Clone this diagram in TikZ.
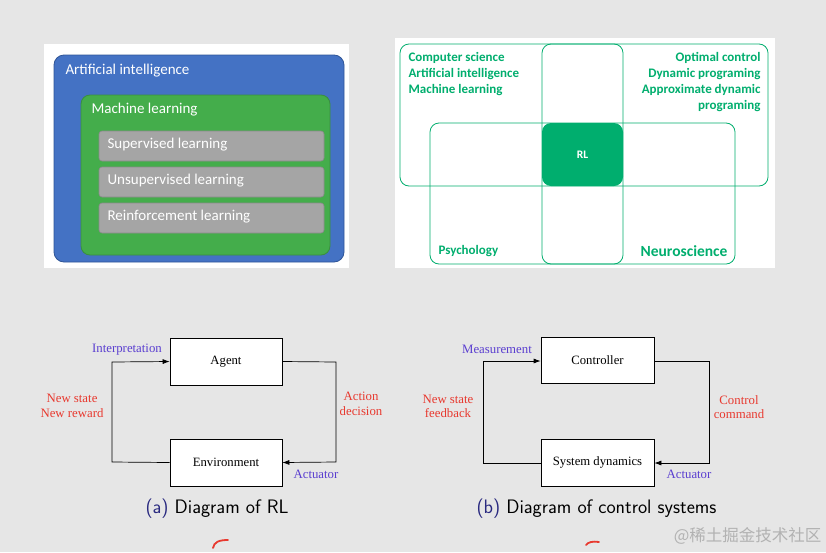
\documentclass[tikz,border=0pt]{standalone}
\usepackage{fontspec}
\setmainfont{Liberation Serif}
\newfontfamily\calib{Carlito}
\newfontfamily\cjk{Noto Sans CJK SC}
\usetikzlibrary{arrows.meta}
\definecolor{bgc}{HTML}{E6E6E6}
\definecolor{aiblue}{HTML}{4472C4}
\definecolor{aiblueedge}{HTML}{2F5597}
\definecolor{mlgreen}{HTML}{44AD4B}
\definecolor{mlgreenedge}{HTML}{3A8F40}
\definecolor{subgray}{HTML}{A5A5A5}
\definecolor{subgrayedge}{HTML}{8A8A8A}
\definecolor{teal}{HTML}{00AE6E}
\definecolor{lblue}{HTML}{5A3ED0}
\definecolor{lred}{HTML}{E8392F}
\definecolor{capblue}{HTML}{2A2A80}
\tikzset{
  x=1pt, y=-1pt,
  aitext/.style={font=\calib\fontsize{15}{17}\selectfont, text=white, anchor=west},
  subbox/.style={draw=subgrayedge, fill=subgray, rounded corners=3pt, line width=0.6pt},
  vennbox/.style={draw=teal, line width=0.8pt, rounded corners=9pt},
  venntext/.style={font=\calib\bfseries\fontsize{13}{15}\selectfont, text=teal},
  blockbox/.style={draw=black, fill=white, line width=0.7pt, minimum width=112pt, minimum height=47pt, font=\fontsize{12.7}{14}\selectfont},
  flow/.style={draw=black, line width=0.7pt, -{Latex[length=7pt,width=5pt]}},
  bluelbl/.style={text=lblue, font=\fontsize{12.8}{14}\selectfont},
  redlbl/.style={text=lred, font=\fontsize{12.8}{14.5}\selectfont, align=center},
  captxt/.style={font=\sffamily\fontsize{19.5}{22}\selectfont, anchor=west},
}
\begin{document}
\begin{tikzpicture}
\useasboundingbox (0,0) rectangle (826,552);
\fill[bgc] (0,0) rectangle (826,552);

% ---------- top-left panel ----------
\fill[white] (44,44) rectangle (349,268);
\draw[aiblueedge, fill=aiblue, line width=0.8pt, rounded corners=10pt] (54,55) rectangle (344,262);
\node[aitext] (ai) at (62,71) {Artificial intelligence};
\draw[mlgreenedge, fill=mlgreen, line width=0.8pt, rounded corners=9pt] (81,95) rectangle (330,255);
\node[aitext] (ml) at (88,110) {Machine learning};
\draw[subbox] (99,131) rectangle (324,161);
\node[aitext] (sl) at (104,145) {Supervised learning};
\draw[subbox] (99,167) rectangle (324,197);
\node[aitext] (ul) at (104,181) {Unsupervised learning};
\draw[subbox] (99,203) rectangle (324,233);
\node[aitext] (rl) at (104,217) {Reinforcement learning};

% ---------- top-right panel ----------
\fill[white] (395,38) rectangle (775,268);
\draw[vennbox] (400,44) rectangle (768,186);
\draw[vennbox] (430,123) rectangle (735,264);
\draw[vennbox] (542,44) rectangle (623,264);
\fill[teal, rounded corners=9pt] (542,123) rectangle (623,186);
\node[font=\calib\bfseries\fontsize{11.5}{13}\selectfont, text=white] (rlc) at (582.5,155) {RL};
\node[venntext, anchor=west] (cs) at (405,58) {Computer science};
\node[venntext, anchor=west] (ai2) at (405,74) {Artificial intelligence};
\node[venntext, anchor=west] (ml2) at (405,90) {Machine learning};
\node[venntext, anchor=east] (oc) at (764,58) {Optimal control};
\node[venntext, anchor=east] (dp) at (764,74) {Dynamic programing};
\node[venntext, anchor=east] (adp) at (764,90) {Approximate dynamic};
\node[venntext, anchor=east] (adp2) at (764,106) {programing};
\node[venntext, anchor=west] (psy) at (435,251) {Psychology};
\node[venntext, anchor=east, font=\calib\bfseries\fontsize{15.5}{17}\selectfont] (neu) at (731,251) {Neuroscience};

% ---------- bottom-left diagram ----------
\node[blockbox] (agent) at (226,361.5) {Agent};
\node[blockbox] (env) at (226,462.5) {Environment};
\coordinate (al) at (112,362);
\coordinate (el) at (112,462);
\coordinate (ar) at (336,362);
\coordinate (er) at (336,462);
\draw[flow] (env.west) -- (el) -- (al) -- (agent.west);
\draw[flow] (agent.east) -- (ar) -- (er) -- (env.east);
\node[bluelbl] (interp) at (127,350) {Interpretation};
\node[redlbl, anchor=east] (nsr) at (107,406) {New state\\New reward};
\node[redlbl] (act) at (361,404) {Action\\decision};
\node[bluelbl] (actu) at (316,474) {Actuator};

% ---------- bottom-right diagram ----------
\node[blockbox, minimum width=113pt, minimum height=46pt] (ctrl) at (597.5,360) {Controller};
\node[blockbox, minimum width=113pt, minimum height=47pt] (sys) at (597.5,462.5) {System dynamics};
\coordinate (cl) at (483,361);
\coordinate (sl2) at (483,463);
\coordinate (cr) at (709,361);
\coordinate (sr) at (709,463);
\draw[flow] (sys.west |- sl2) -- (sl2) -- (cl) -- (ctrl.west |- cl);
\draw[flow] (ctrl.east |- cr) -- (cr) -- (sr) -- (sys.east |- sr);
\node[bluelbl] (meas) at (497,349) {Measurement};
\node[redlbl] (nsf) at (448,406.5) {New state\\feedback};
\node[redlbl] (cc) at (739,407) {Control\\command};
\node[bluelbl] (actu2) at (689,474) {Actuator};

% ---------- captions ----------
\node[captxt] (capa) at (142,509) {\textcolor{capblue}{(a)} Diagram of RL};
\node[captxt] (capb) at (473,509) {\textcolor{capblue}{(b)} Diagram of control systems};

% ---------- red marks and watermark ----------
\draw[lred, line width=1.8pt, line cap=round] (213,548) .. controls (214,542) and (219,540) .. (228,540);
\draw[lred, line width=1.8pt, line cap=round] (586,545) .. controls (588,542) and (593,541) .. (599,542);
\node[font=\cjk\fontsize{16.5}{18}\selectfont, text=gray!60, anchor=east] (wm) at (825,536) {@稀土掘金技术社区};
\end{tikzpicture}
\end{document}
